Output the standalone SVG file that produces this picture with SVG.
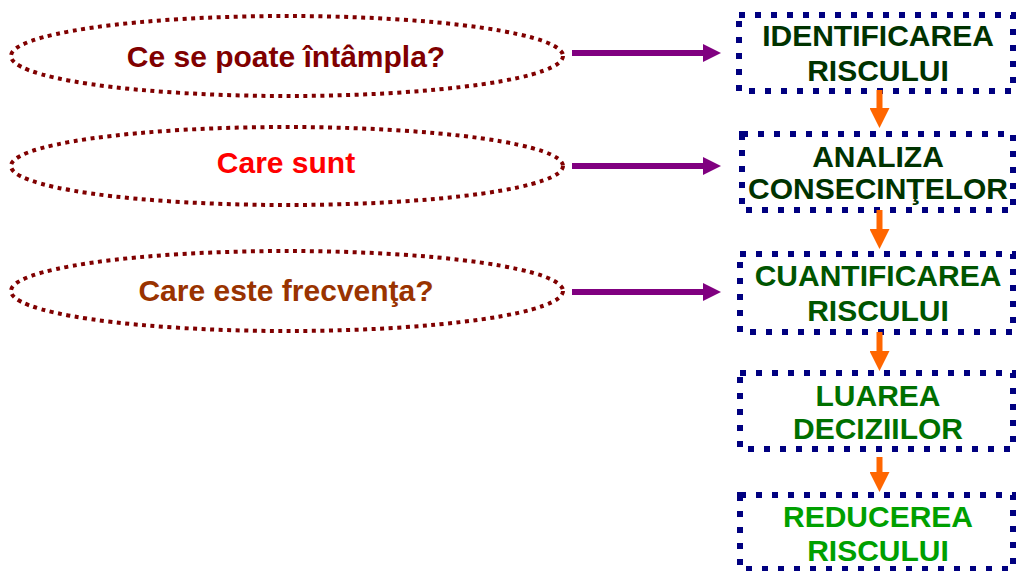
<svg xmlns="http://www.w3.org/2000/svg" width="1016" height="571" viewBox="0 0 1016 571">
<style>
.ell{fill:none;stroke:#800000;stroke-width:4;stroke-dasharray:4 4.5}
.box{fill:none;stroke:#000080;stroke-width:6;stroke-dasharray:6 10}
.t{font-family:"Liberation Sans",Arial,sans-serif;font-weight:bold;font-size:30px;text-anchor:middle}
.bt{font-family:"Liberation Sans",Arial,sans-serif;font-weight:bold;font-size:30px;text-anchor:middle}
.pa{stroke:#800080;stroke-width:6;fill:none}
.oa{stroke:#FF6600;stroke-width:6;fill:none}
</style>
<defs>
<marker id="ph" markerUnits="userSpaceOnUse" viewBox="0 0 18 18" markerWidth="18" markerHeight="18" refX="0" refY="9" orient="auto">
<path d="M0,0 L18,9 L0,18 z" fill="#800080"/>
</marker>
<marker id="oh" markerUnits="userSpaceOnUse" viewBox="0 0 20 20" markerWidth="20" markerHeight="20" refX="0" refY="10" orient="auto">
<path d="M0,0 L20,10 L0,20 z" fill="#FF6600"/>
</marker>
</defs>
<rect width="1016" height="571" fill="#fff"/>
<g id="q1">
<ellipse class="ell" cx="287" cy="56" rx="276" ry="40"/>
<text class="t" x="286" y="67" fill="#800000">Ce se poate întâmpla?</text>
</g>
<g id="q2">
<ellipse class="ell" cx="287" cy="166" rx="276" ry="39"/>
<text class="t" x="286" y="173" fill="#FF0000">Care sunt</text>
</g>
<g id="q3">
<ellipse class="ell" cx="287" cy="291" rx="276" ry="40"/>
<text class="t" x="286" y="301" fill="#993300">Care este frecvenţa?</text>
</g>
<g id="b1">
<rect class="box" x="739" y="15" width="274" height="76"/>
<text class="bt" x="878" y="46" fill="#003300">IDENTIFICAREA</text>
<text class="bt" x="878" y="81" fill="#003300">RISCULUI</text>
</g>
<g id="b2">
<rect class="box" x="742" y="134" width="271" height="76"/>
<text class="bt" x="878" y="167" fill="#003300">ANALIZA</text>
<text class="bt" x="878" y="199" fill="#003300">CONSECINŢELOR</text>
</g>
<g id="b3">
<rect class="box" x="740" y="254" width="273" height="78"/>
<text class="bt" x="878" y="286" fill="#005500">CUANTIFICAREA</text>
<text class="bt" x="878" y="321" fill="#005500">RISCULUI</text>
</g>
<g id="b4">
<rect class="box" x="740" y="373" width="273" height="76"/>
<text class="bt" x="878" y="406" fill="#007000">LUAREA</text>
<text class="bt" x="878" y="439" fill="#007000">DECIZIILOR</text>
</g>
<g id="b5">
<rect class="box" x="740" y="495" width="273" height="74"/>
<text class="bt" x="878" y="527" fill="#00A000">REDUCEREA</text>
<text class="bt" x="878" y="561" fill="#00A000">RISCULUI</text>
</g>
<g id="connectors">
<line class="pa" x1="572" y1="53" x2="703" y2="53" marker-end="url(#ph)"/>
<line class="pa" x1="572" y1="166" x2="703" y2="166" marker-end="url(#ph)"/>
<line class="pa" x1="572" y1="292" x2="703" y2="292" marker-end="url(#ph)"/>
<line class="oa" x1="879.5" y1="90" x2="879.5" y2="108" marker-end="url(#oh)"/>
<line class="oa" x1="879.5" y1="210" x2="879.5" y2="229" marker-end="url(#oh)"/>
<line class="oa" x1="879.5" y1="332" x2="879.5" y2="351" marker-end="url(#oh)"/>
<line class="oa" x1="879.5" y1="457" x2="879.5" y2="472" marker-end="url(#oh)"/>
</g>
</svg>
